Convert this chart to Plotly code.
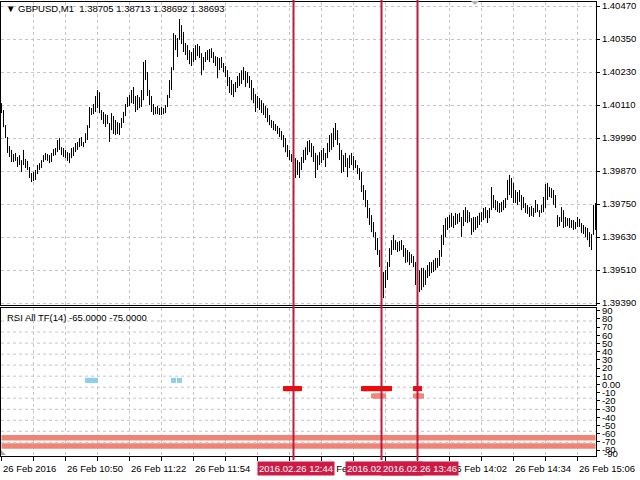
import pandas as pd
import plotly.graph_objects as go

# GBPUSD M1 bars, first bar 10:18, one bar per minute
start = '2016-02-26 10:18'

high = [
    1.40117, 1.40092, 1.40037, 1.39994, 1.39961, 1.39947, 1.39932, 1.39936, 1.39921, 1.39928,
    1.39910, 1.39947, 1.39914, 1.39907, 1.39885, 1.39863, 1.39867, 1.39874, 1.39892, 1.39899,
    1.39910, 1.39928, 1.39936, 1.39932, 1.39928, 1.39936, 1.39950, 1.39954, 1.39983, 1.39990,
    1.39957, 1.39954, 1.39947, 1.39939, 1.39936, 1.39954, 1.39957, 1.39972, 1.39976, 1.39990,
    1.39994, 1.39976, 1.40008, 1.40037, 1.40103, 1.40099, 1.40114, 1.40143, 1.40165, 1.40157,
    1.40092, 1.40085, 1.40077, 1.40074, 1.40045, 1.40081, 1.40070, 1.40056, 1.40048, 1.40045,
    1.40063, 1.40085, 1.40114, 1.40139, 1.40147, 1.40165, 1.40176, 1.40143, 1.40147, 1.40139,
    1.40165, 1.40267, 1.40274, 1.40230, 1.40165, 1.40143, 1.40114, 1.40103, 1.40107, 1.40099,
    1.40103, 1.40099, 1.40110, 1.40147, 1.40201, 1.40248, 1.40372, 1.40365, 1.40354, 1.40423,
    1.40401, 1.40376, 1.40336, 1.40328, 1.40310, 1.40303, 1.40317, 1.40328, 1.40332, 1.40325,
    1.40299, 1.40285, 1.40303, 1.40310, 1.40314, 1.40317, 1.40303, 1.40288, 1.40285, 1.40281,
    1.40285, 1.40263, 1.40252, 1.40237, 1.40212, 1.40201, 1.40187, 1.40194, 1.40216, 1.40227,
    1.40237, 1.40248, 1.40234, 1.40230, 1.40216, 1.40201, 1.40172, 1.40150, 1.40143, 1.40136,
    1.40128, 1.40117, 1.40107, 1.40099, 1.40074, 1.40056, 1.40052, 1.40041, 1.40034, 1.40027,
    1.40016, 1.40001, 1.39990, 1.39965, 1.39947, 1.39932, 1.39921, 1.39917, 1.39910, 1.39903,
    1.39921, 1.39947, 1.39957, 1.39979, 1.39983, 1.39972, 1.39961, 1.39936, 1.39928, 1.39939,
    1.39947, 1.39954, 1.39936, 1.39972, 1.40001, 1.40008, 1.40027, 1.40045, 1.40019, 1.39972,
    1.39947, 1.39928, 1.39936, 1.39917, 1.39928, 1.39936, 1.39925, 1.39910, 1.39892, 1.39881,
    1.39867, 1.39819, 1.39801, 1.39765, 1.39736, 1.39710, 1.39685, 1.39648, 1.39627, 1.39583,
    1.39539, 1.39503, 1.39510, 1.39539, 1.39590, 1.39619, 1.39638, 1.39619, 1.39612, 1.39616,
    1.39619, 1.39601, 1.39590, 1.39583, 1.39576, 1.39568, 1.39561, 1.39539, 1.39521, 1.39510,
    1.39518, 1.39518, 1.39510, 1.39528, 1.39539, 1.39539, 1.39547, 1.39554, 1.39554, 1.39583,
    1.39638, 1.39674, 1.39699, 1.39703, 1.39710, 1.39718, 1.39707, 1.39718, 1.39714, 1.39718,
    1.39703, 1.39728, 1.39739, 1.39728, 1.39721, 1.39699, 1.39703, 1.39703, 1.39707, 1.39718,
    1.39721, 1.39736, 1.39739, 1.39728, 1.39736, 1.39812, 1.39783, 1.39765, 1.39761, 1.39754,
    1.39758, 1.39765, 1.39772, 1.39838, 1.39856, 1.39845, 1.39827, 1.39801, 1.39794, 1.39801,
    1.39783, 1.39776, 1.39754, 1.39747, 1.39739, 1.39743, 1.39736, 1.39765, 1.39750, 1.39728,
    1.39747, 1.39776, 1.39823, 1.39827, 1.39812, 1.39808, 1.39801, 1.39783, 1.39710, 1.39703,
    1.39739, 1.39728, 1.39703, 1.39699, 1.39699, 1.39692, 1.39692, 1.39685, 1.39703, 1.39696,
    1.39681, 1.39674, 1.39667, 1.39663, 1.39648, 1.39641, 1.39747, 1.39754,
]

low = [
    1.40081, 1.40030, 1.39990, 1.39936, 1.39921, 1.39903, 1.39903, 1.39907, 1.39885, 1.39892,
    1.39867, 1.39892, 1.39881, 1.39874, 1.39845, 1.39830, 1.39834, 1.39838, 1.39859, 1.39874,
    1.39881, 1.39903, 1.39910, 1.39907, 1.39899, 1.39903, 1.39925, 1.39928, 1.39939, 1.39947,
    1.39928, 1.39921, 1.39917, 1.39907, 1.39899, 1.39917, 1.39925, 1.39939, 1.39947, 1.39957,
    1.39961, 1.39957, 1.39972, 1.39983, 1.40027, 1.40074, 1.40077, 1.40085, 1.40099, 1.40081,
    1.40056, 1.40041, 1.40030, 1.40041, 1.39976, 1.40019, 1.40005, 1.40001, 1.40005, 1.40001,
    1.40027, 1.40045, 1.40070, 1.40103, 1.40107, 1.40117, 1.40114, 1.40085, 1.40092, 1.40099,
    1.40103, 1.40128, 1.40201, 1.40143, 1.40110, 1.40085, 1.40074, 1.40077, 1.40077, 1.40074,
    1.40074, 1.40077, 1.40081, 1.40103, 1.40136, 1.40165, 1.40237, 1.40310, 1.40285, 1.40347,
    1.40332, 1.40303, 1.40292, 1.40274, 1.40259, 1.40252, 1.40267, 1.40274, 1.40288, 1.40281,
    1.40219, 1.40237, 1.40267, 1.40274, 1.40267, 1.40281, 1.40263, 1.40252, 1.40208, 1.40237,
    1.40245, 1.40230, 1.40212, 1.40179, 1.40154, 1.40147, 1.40139, 1.40157, 1.40172, 1.40179,
    1.40187, 1.40201, 1.40176, 1.40190, 1.40172, 1.40128, 1.40117, 1.40085, 1.40099, 1.40092,
    1.40081, 1.40074, 1.40063, 1.40048, 1.40037, 1.40027, 1.40019, 1.40016, 1.40005, 1.39994,
    1.39983, 1.39957, 1.39939, 1.39921, 1.39910, 1.39903, 1.39885, 1.39845, 1.39856, 1.39845,
    1.39874, 1.39899, 1.39910, 1.39928, 1.39939, 1.39921, 1.39903, 1.39845, 1.39874, 1.39892,
    1.39899, 1.39910, 1.39885, 1.39917, 1.39939, 1.39947, 1.39957, 1.39983, 1.39965, 1.39910,
    1.39863, 1.39867, 1.39885, 1.39848, 1.39881, 1.39892, 1.39874, 1.39881, 1.39859, 1.39838,
    1.39794, 1.39765, 1.39739, 1.39699, 1.39674, 1.39648, 1.39630, 1.39583, 1.39565, 1.39521,
    1.39438, 1.39408, 1.39445, 1.39474, 1.39521, 1.39565, 1.39583, 1.39583, 1.39576, 1.39579,
    1.39583, 1.39558, 1.39536, 1.39539, 1.39528, 1.39536, 1.39521, 1.39456, 1.39419, 1.39430,
    1.39438, 1.39448, 1.39456, 1.39481, 1.39488, 1.39499, 1.39503, 1.39510, 1.39518, 1.39525,
    1.39558, 1.39601, 1.39630, 1.39656, 1.39663, 1.39667, 1.39663, 1.39674, 1.39678, 1.39685,
    1.39630, 1.39670, 1.39685, 1.39681, 1.39685, 1.39638, 1.39648, 1.39656, 1.39663, 1.39674,
    1.39685, 1.39692, 1.39699, 1.39681, 1.39699, 1.39728, 1.39736, 1.39728, 1.39721, 1.39718,
    1.39721, 1.39728, 1.39736, 1.39765, 1.39783, 1.39772, 1.39754, 1.39754, 1.39747, 1.39758,
    1.39728, 1.39736, 1.39718, 1.39714, 1.39703, 1.39707, 1.39703, 1.39718, 1.39721, 1.39703,
    1.39718, 1.39721, 1.39736, 1.39765, 1.39776, 1.39772, 1.39747, 1.39736, 1.39667, 1.39670,
    1.39685, 1.39663, 1.39667, 1.39670, 1.39663, 1.39663, 1.39656, 1.39659, 1.39667, 1.39667,
    1.39645, 1.39641, 1.39630, 1.39619, 1.39594, 1.39583, 1.39638, 1.39656,
]

price_ticks = [1.39390, 1.39510, 1.39630, 1.39750, 1.39870,
               1.39990, 1.40110, 1.40230, 1.40350, 1.40470]

rsi_ticks = [90, 80, 70, 60, 50, 40, 30, 20, 10, 0,
             -10, -20, -30, -40, -50, -60, -70, -80]
rsi_ticktext = ['90', '80', '70', '60', '50', '40', '30', '20', '10', '0.00',
                '-10', '-20', '-30', '-40', '-50', '-60', '-70', '-80']

level_1 = -65.0
level_2 = -75.0

# signal marks of the indicator (bar times) and the level they sit on
sig_blue_times = ['11:01', '11:02', '11:03', '11:04', '11:05', '11:44', '11:47']
sig_blue_level = 5
sig_red_times = ['12:40', '12:41', '12:42', '12:43', '12:44', '12:45', '12:46', '12:47',
                 '13:19', '13:20', '13:21', '13:22', '13:23', '13:24', '13:25', '13:26',
                 '13:27', '13:28', '13:29', '13:30', '13:31', '13:32',
                 '13:45', '13:46', '13:47']
sig_red_level = -5
sig_pink_times = ['13:24', '13:25', '13:26', '13:27', '13:28', '13:29',
                  '13:45', '13:46', '13:47', '13:48']
sig_pink_level = -14

vline_times = ['12:44', '13:28', '13:46']

x_label_times = ['10:18', '10:50', '11:22', '11:54', '12:26',
                 '12:58', '13:30', '14:02', '14:34', '15:06']
x_label_text = ['26 Feb 2016', '26 Feb 10:50', '26 Feb 11:22', '26 Feb 11:54', '26 Feb 12:26',
                '26 Feb 12:58', '26 Feb 13:30', '26 Feb 14:02', '26 Feb 14:34', '26 Feb 15:06']

day = '2016-02-26 '
times = pd.date_range(start, periods=len(high), freq='min')


def to_time(hm):
    return pd.Timestamp(day + hm)


FONT = 'Liberation Sans, Arial, sans-serif'
GRID = '#c4c4c4'
VLINE = '#bd1b3e'
LABEL_BG = '#cf1a45'

W, H = 640, 480
x_dom = [1 / W, 596 / W]
main_dom = [1 - 305 / H, 1 - 2 / H]
rsi_dom = [1 - 456 / H, 1 - 308 / H]
x_range = [pd.Timestamp(start) - pd.Timedelta(seconds=15),
           pd.Timestamp(start) + pd.Timedelta(seconds=15 + 60 * 297)]

fig = go.Figure()

# price bars (high-low sticks)
bx, by = [], []
for t, h, l in zip(times, high, low):
    bx += [t, t, None]
    by += [l, h, None]
fig.add_trace(go.Scatter(x=bx, y=by, mode='lines', xaxis='x', yaxis='y',
                         line=dict(color='black', width=1), hoverinfo='skip'))

# indicator levels
for lv in (level_1, level_2):
    fig.add_trace(go.Scatter(x=[times[0], times[-1]], y=[lv, lv], mode='lines',
                             xaxis='x2', yaxis='y2',
                             line=dict(color='#f08276', width=5.5), hoverinfo='skip'))

# indicator signals
for tl, lv, col in [(sig_blue_times, sig_blue_level, '#8fcdf0'),
                    (sig_red_times, sig_red_level, '#f00a0a'),
                    (sig_pink_times, sig_pink_level, '#f0857a')]:
    fig.add_trace(go.Scatter(x=[to_time(s) for s in tl], y=[lv] * len(tl),
                             mode='markers', xaxis='x2', yaxis='y2',
                             marker=dict(symbol='square', size=5, color=col,
                                         line=dict(width=0)),
                             hoverinfo='skip'))

# indicator grid (own spacing, not tied to labels)
for k in range(12):
    g = 77.4 - 13.45 * k
    fig.add_shape(type='line', xref='x2 domain', x0=0, x1=1, yref='y2', y0=g, y1=g,
                  line=dict(color=GRID, width=1, dash='3px,3px'), layer='below')

# vertical lines
for hm in vline_times:
    fig.add_shape(type='line', xref='x', x0=to_time(hm), x1=to_time(hm),
                  yref='paper', y0=1 - 460 / H, y1=1,
                  line=dict(color=VLINE, width=2))

# small grey chart markers (shift marker at top, corner mark at bottom-left)
fig.add_shape(type='path', xref='paper', yref='paper',
              path=f'M {471 / W},{1 - 1 / H} L {479 / W},{1 - 1 / H} L {475 / W},{1 - 5 / H} Z',
              fillcolor='#b4b4b4', line=dict(width=0))
fig.add_shape(type='path', xref='paper', yref='paper',
              path=f'M {1 / W},{1 - 450 / H} L {1 / W},{1 - 455 / H} L {6 / W},{1 - 455 / H} Z',
              fillcolor='#a8a8a8', line=dict(width=0))

annotations = []
for hm, txt in zip(x_label_times, x_label_text):
    annotations.append(dict(x=to_time(hm), xref='x2', y=1 - 468 / H, yref='paper',
                            text=txt, showarrow=False, xanchor='left', yanchor='middle',
                            xshift=-1, font=dict(size=9.5, color='black')))
for hm in vline_times:
    annotations.append(dict(x=to_time(hm), xref='x2', y=1 - 468 / H, yref='paper',
                            text=day.replace('-', '.').strip() + ' ' + hm,
                            showarrow=False, xanchor='center', yanchor='middle',
                            xshift=2, bgcolor=LABEL_BG, borderpad=1,
                            font=dict(size=9.5, color='white')))
annotations.append(dict(x=4 / W, xref='paper', y=1 - 8 / H, yref='paper',
                        text='\u25bc GBPUSD,M1\u00a0\u00a01.38705 1.38713 1.38692 1.38693',
                        showarrow=False, xanchor='left', yanchor='middle',
                        font=dict(size=9.5, color='black')))
annotations.append(dict(x=5 / W, xref='paper', y=1 - 317 / H, yref='paper',
                        text='RSI All TF(14) -65.0000 -75.0000',
                        showarrow=False, xanchor='left', yanchor='middle',
                        font=dict(size=9.5, color='black')))
annotations.append(dict(x=602 / W, xref='paper', y=1 - 453 / H, yref='paper',
                        text='-90', showarrow=False, xanchor='left', yanchor='middle',
                        font=dict(size=9.5, color='black')))

axis_common = dict(showline=True, linecolor='black', linewidth=1, mirror=True,
                   zeroline=False, automargin=False)

fig.update_layout(
    width=W, height=H,
    margin=dict(l=0, r=0, t=0, b=0, pad=0),
    paper_bgcolor='white', plot_bgcolor='white',
    font=dict(family=FONT, size=9.5, color='black'),
    showlegend=False,
    hovermode=False,
    xaxis=dict(domain=x_dom, anchor='y', range=x_range, type='date',
               showticklabels=False, ticks='',
               showgrid=True, gridcolor=GRID, griddash='3px,3px', gridwidth=1,
               tick0=start, dtick=16 * 60 * 1000, **axis_common),
    xaxis2=dict(domain=x_dom, anchor='y2', matches='x', type='date',
                showticklabels=False, ticks='outside', ticklen=4, tickcolor='black',
                showgrid=True, gridcolor=GRID, griddash='3px,3px', gridwidth=1,
                tick0=start, dtick=16 * 60 * 1000, **axis_common),
    yaxis=dict(domain=main_dom, anchor='x', side='right', range=[1.39383, 1.40485],
               tickvals=price_ticks, tickformat='.5f',
               ticks='outside', ticklen=3, tickcolor='black',
               showgrid=True, gridcolor=GRID, griddash='3px,3px', gridwidth=1,
               **axis_common),
    yaxis2=dict(domain=rsi_dom, anchor='x2', side='right', range=[-87.2, 93.3],
                tickvals=rsi_ticks, ticktext=rsi_ticktext,
                ticks='outside', ticklen=3, tickcolor='black',
                showgrid=False, **axis_common),
    annotations=annotations,
)

# the page body has a default 8px margin; drop it so the chart sits at 0,0
fig.write_html('out.html', config={'displayModeBar': False},
               post_script="document.body.style.margin='0';"
                           "document.body.style.overflow='hidden';")
